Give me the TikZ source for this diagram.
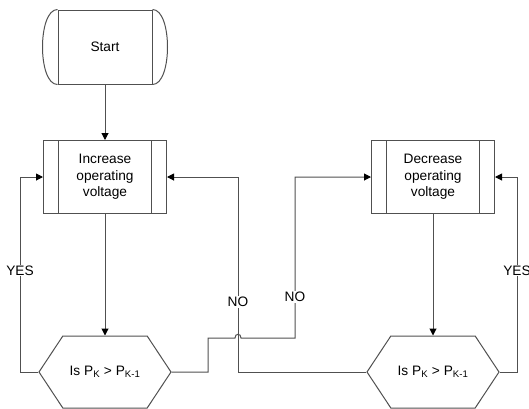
\documentclass[tikz,border=0pt]{standalone}
\usepackage{fontspec}
\setmainfont{Liberation Sans}
\usetikzlibrary{arrows.meta,positioning,shapes.symbols}
\definecolor{fcgray}{RGB}{80,80,80}

\tikzset{
  flowline/.style={draw=fcgray,line width=1pt},
  flowarrow/.style={flowline,-{Triangle[length=7pt,width=7pt,color=black]}},
  flowlabel/.style={fill=white,inner sep=1pt},
  terminal/.style={flowline,minimum width=94pt,minimum height=74pt,inner sep=0pt},
  processbox/.style={flowline,minimum width=123pt,minimum height=73pt,inner sep=0pt,align=center,
    path picture={\draw[fcgray,line width=1pt]
      ([xshift=15pt]path picture bounding box.north west) -- ([xshift=15pt]path picture bounding box.south west)
      ([xshift=-15pt]path picture bounding box.north east) -- ([xshift=-15pt]path picture bounding box.south east);}},
  decision/.style={flowline,signal,signal to=west and east,signal pointer angle=113,
    minimum width=132pt,minimum height=72pt,inner sep=0pt}
}

\begin{document}
\begin{tikzpicture}[x=1pt,y=-1pt,font=\fontsize{13.7}{16.3}\selectfont]
  \useasboundingbox (0,0) rectangle (529,408);
  % Start terminal
  \node[terminal] (start) at (105,47) {Start};
  \draw[flowline] (start.north west) .. controls +(-20,0) and +(-20,0) .. (start.south west);
  \draw[flowline] (start.north east) .. controls +(20,0) and +(20,0) .. (start.south east);
  % Processes
  \node[processbox] (incv) at (105,177) {Increase\\operating\\voltage};
  \node[processbox] (decv) at (433,177) {Decrease\\operating\\voltage};
  % Decisions
  \node[decision] (chk1) at (105,372) {Is P\textsubscript{K} > P\textsubscript{K-1}};
  \node[decision] (chk2) at (433,372) {Is P\textsubscript{K} > P\textsubscript{K-1}};
  % Straight flow
  \draw[flowarrow] (start.south) -- (incv.north);
  \draw[flowarrow] (incv.south) -- (chk1.north);
  \draw[flowarrow] (decv.south) -- (chk2.north);
  % YES loops
  \draw[flowarrow] (chk1.west) -- (20,372) |- (incv.west) node[flowlabel,pos=0.26] {YES};
  \draw[flowarrow] (chk2.east) -- (517,372) |- (decv.east) node[flowlabel,pos=0.26] {YES};
  % NO branches
  \draw[flowarrow] (chk2.west) -- (238,372) |- (incv.east) node[flowlabel,pos=0.18] {NO};
  \draw[flowarrow] (chk1.east) -- (208,372) -- (208,338) -- (235,338)
    .. controls (235,333) and (241,333) .. (241,338) -- (295,338) |- (decv.west)
    node[flowlabel,pos=0.127] {NO};
\end{tikzpicture}
\end{document}
